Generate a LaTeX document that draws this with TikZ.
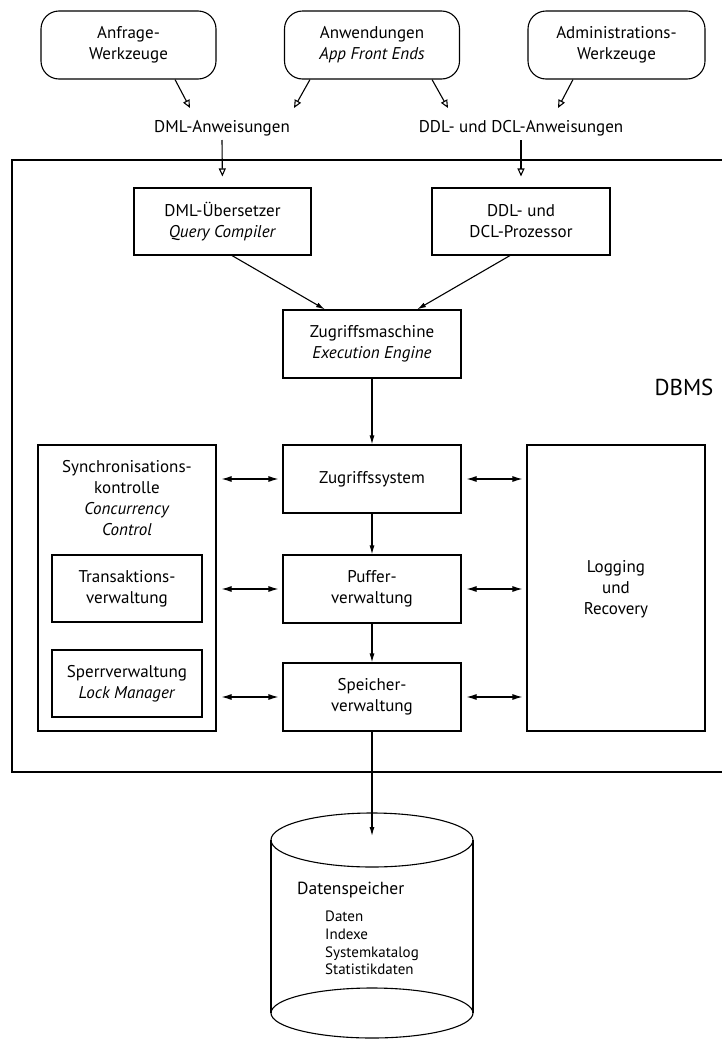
\documentclass[tikz,border=0pt]{standalone}
\usepackage{fontspec}
\setmainfont{PT Sans}
\usetikzlibrary{arrows.meta}
\begin{document}
\begin{tikzpicture}[x=1pt,y=-1pt]
\tikzset{
 lw/.style={line width=1.1pt},
 txt/.style={font=\fontsize{17}{21}\selectfont, align=center, inner sep=0pt},
 tool/.style={txt, draw, lw, rounded corners=18pt, minimum width=175pt, minimum height=68pt},
 blk/.style={txt, draw, lw, minimum width=177pt},
 opentip/.style={lw, -{Triangle[open,length=8pt,width=7pt]}},
 filltip/.style={lw, -{Latex[length=9pt,width=5pt]}},
 dbl/.style={lw, {Latex[length=10pt,width=6pt]}-{Latex[length=10pt,width=6pt]}, shorten <=5pt, shorten >=4pt},
}
\useasboundingbox (0,0) rectangle (722,1039);
% DBMS frame
\draw[lw] (722,160) -- (12,160) -- (12,772) -- (722,772);
% top tools
\node[tool] (q1) at (128.5,45) {Anfrage-\\Werkzeuge};
\node[tool] (q2) at (372,45) {Anwendungen\\\textit{App Front Ends}};
\node[tool, minimum width=177pt] (q3) at (616.5,45) {Administrations-\\Werkzeuge};
\node[txt, anchor=base] (dml) at (222,132) {DML-Anweisungen};
\node[txt, anchor=base] (ddl) at (521,132) {DDL- und DCL-Anweisungen};
\coordinate (t1) at (190,108);
\coordinate (t2) at (294,108);
\coordinate (t3) at (448,108);
\coordinate (t4) at (558,108);
\draw[opentip] ([xshift=46.5pt]q1.south) -- (t1);
\draw[opentip] ([xshift=-62pt]q2.south) -- (t2);
\draw[opentip] ([xshift=60pt]q2.south) -- (t3);
\draw[opentip] ([xshift=-43.5pt]q3.south) -- (t4);
% compilers
\node[blk, minimum height=67pt] (dmlc) at (222.5,221.5) {DML-Übersetzer\\\textit{Query Compiler}};
\node[blk, minimum width=178pt, minimum height=67pt] (ddlc) at (521,221.5) {DDL- und\\DCL-Prozessor};
\coordinate (d1) at (222,140);
\coordinate (d2) at (521,140);
\draw[opentip, shorten >=11pt] (d1) -- (dmlc.north);
\draw[opentip, shorten >=11pt] (d2) -- (ddlc.north);
% execution engine
\node[blk, minimum width=178pt, minimum height=68pt] (zm) at (372,344) {Zugriffsmaschine\\\textit{Execution Engine}};
\draw[filltip] ([xshift=9.5pt]dmlc.south) -- ([xshift=-47pt]zm.north);
\draw[filltip] ([xshift=-11pt]ddlc.south) -- ([xshift=45pt]zm.north);
\node[font=\fontsize{23}{26}\selectfont, inner sep=0pt] (dbms) at (684,387) {DBMS};
% central stack
\node[blk, minimum width=178pt, minimum height=68pt] (zs) at (372,479) {Zugriffssystem};
\node[blk, minimum width=178pt, minimum height=68pt] (pv) at (372,589) {Puffer-\\verwaltung};
\node[blk, minimum width=178pt, minimum height=68pt] (sv) at (372,697) {Speicher-\\verwaltung};
\draw[filltip] (zm.south) -- (zs.north);
\draw[filltip] (zs.south) -- (pv.north);
\draw[filltip] (pv.south) -- (sv.north);
% concurrency control
\node[draw, lw, minimum width=178pt, minimum height=286pt, inner sep=0pt] (sync) at (127,588) {};
\node[txt] (synct) at (127,498.5) {Synchronisations-\\kontrolle\\\textit{Concurrency}\\\textit{Control}};
\node[blk, minimum width=150pt, minimum height=67pt] (ta) at (127,588.5) {Transaktions-\\verwaltung};
\node[blk, minimum width=150pt, minimum height=67pt] (sp) at (127,683.5) {Sperrverwaltung\\\textit{Lock Manager}};
% logging
\node[draw, lw, minimum width=178pt, minimum height=286pt, inner sep=0pt] (log) at (616,588) {};
\node[txt] (logt) at (616,589) {Logging\\und\\Recovery};
% double arrows
\draw[dbl] (zs.west -| sync.east) -- (zs.west);
\draw[dbl] (pv.west -| sync.east) -- (pv.west);
\draw[dbl] (sv.west -| sync.east) -- (sv.west);
\draw[dbl] (zs.east) -- (zs.east -| log.west);
\draw[dbl] (pv.east) -- (pv.east -| log.west);
\draw[dbl] (sv.east) -- (sv.east -| log.west);
% storage cylinder
\draw[lw] (372,840) ellipse [x radius=101pt, y radius=27pt];
\draw[lw] (271,840) -- (271,1013) (473,840) -- (473,1013);
\draw[lw] (372,1013) ellipse [x radius=101pt, y radius=25pt];
\coordinate (ds) at (372,836);
\draw[filltip] (sv.south) -- (ds);
\node[font=\fontsize{17.5}{20}\selectfont, anchor=base west, inner sep=0pt] (dsp) at (297,894) {Datenspeicher};
\node[font=\fontsize{15}{17.7}\selectfont, align=left, anchor=north west, inner sep=0pt] (dsl) at (325,911) {Daten\\Indexe\\Systemkatalog\\Statistikdaten};
\end{tikzpicture}
\end{document}
